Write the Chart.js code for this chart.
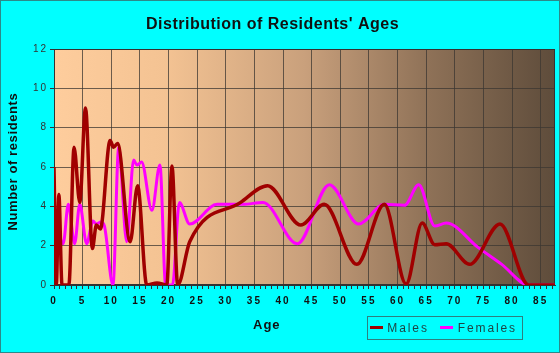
<!DOCTYPE html>
<html>
<head>
<meta charset="utf-8">
<script src="https://cdn.jsdelivr.net/npm/chart.js@4/dist/chart.umd.min.js"></script>
<style>
  html, body { margin: 0; padding: 0; background: #00ffff; }
  canvas { display: block; }
</style>
</head>
<body>
<canvas id="c" width="560" height="353"></canvas>
<script>
// ---- Data ----
const chartTitle = "Distribution of Residents' Ages";
const xTitle = "Age";
const yTitle = "Number of residents";
const seriesNames = ["Males", "Females"];

const maleAges = [0, 0.4, 0.85, 1.4, 2.6, 3.5, 4.5, 5.5, 6.7, 7.4, 8.1, 9.8, 10.4, 11.1, 13.3, 14.6, 16.2, 18, 19.7, 20.6, 21.6, 23.7, 32.6, 37.3, 43.1, 47.2, 52.9, 57.7, 61.5, 64.3, 66.5, 68.5, 72.6, 77.9, 82.9, 87.5];
const maleValues = [6.0, 0, 4.6, 0, 0, 7.0, 4.2, 9.0, 1.85, 3.05, 2.85, 7.35, 7.0, 7.2, 2.2, 5.05, 0, 0.1, 0, 6.05, 0, 2.2, 4.2, 5.05, 3.05, 4.1, 1.05, 4.1, 0.05, 3.15, 2.05, 2.1, 1.05, 3.1, 0, 0];

const femaleAges = [0, 1.6, 2.5, 3.6, 4.5, 5.7, 6.8, 7.4, 8.2, 8.8, 10.3, 11.3, 12.7, 13.9, 14.5, 15.3, 17.1, 18.5, 19.5, 20.7, 21.9, 23.7, 28.5, 33, 36.5, 42.5, 48.1, 53.2, 57.7, 61.2, 63.7, 66.5, 68.5, 74.1, 78.2, 82.9, 87.5];
const femaleValues = [4.1, 2.1, 4.1, 2.1, 4.1, 2.1, 3.25, 3.1, 3.2, 3.0, 0, 7.0, 2.2, 6.35, 6.1, 6.25, 3.8, 6.1, 0, 0, 4.2, 3.1, 4.1, 4.1, 4.2, 2.1, 5.1, 3.1, 4.1, 4.05, 5.1, 3.0, 3.15, 1.9, 1.05, 0, 0];

const xMin = 0, xMax = 87.5, xMajorStep = 5;
const yMin = 0, yMax = 12, yStep = 2;

// ---- Styles ----
const maleColor = '#a00000';
const femaleColor = '#ff00ff';
const gridColor = 'rgba(60,55,50,0.75)';
const axisColor = '#333333';

function toPoints(xs, ys) { return xs.map((x, i) => ({ x: x, y: ys[i] })); }

const decor = {
  id: 'decor',
  beforeDraw(chart) {
    const { ctx, chartArea: a, width, height } = chart;
    ctx.save();
    ctx.fillStyle = '#00ffff';
    ctx.fillRect(0, 0, width, height);
    const g = ctx.createLinearGradient(a.left, 0, a.right, 0);
    g.addColorStop(0, '#fecd9d');
    g.addColorStop(0.22, '#f4c393');
    g.addColorStop(0.5, '#c9a07c');
    g.addColorStop(0.75, '#8e7157');
    g.addColorStop(1, '#5e4c3b');
    ctx.fillStyle = g;
    ctx.fillRect(a.left, a.top, a.right - a.left, a.bottom - a.top);
    ctx.restore();
    ctx.letterSpacing = '2px';
  },
  beforeDatasetsDraw(chart) {
    const { ctx, chartArea: a } = chart;
    ctx.save();
    ctx.strokeStyle = axisColor;
    ctx.lineWidth = 1;
    ctx.strokeRect(Math.round(a.left) + 0.5, Math.round(a.top) + 0.5, Math.round(a.right - a.left) - 1, Math.round(a.bottom - a.top) - 1);
    ctx.restore();
  },
  afterDraw(chart) {
    const { ctx, width, height } = chart;
    ctx.save();
    // outer border
    ctx.strokeStyle = '#2b8a8a';
    ctx.lineWidth = 1;
    ctx.strokeRect(0.5, 0.5, width - 1, height - 1);
    // title
    ctx.fillStyle = '#111111';
    ctx.textBaseline = 'alphabetic';
    ctx.textAlign = 'left';
    ctx.letterSpacing = '0.5px';
    ctx.font = 'bold 16px "Liberation Sans", Arial, sans-serif';
    ctx.fillText(chartTitle, 146, 28.5);
    // x title
    ctx.letterSpacing = '1px';
    ctx.font = 'bold 13px "Liberation Sans", Arial, sans-serif';
    ctx.fillText(xTitle, 253, 328.5);
    // y title
    ctx.save();
    ctx.letterSpacing = '0.6px';
    ctx.translate(16.8, 230.5);
    ctx.rotate(-Math.PI / 2);
    ctx.fillText(yTitle, 0, 0);
    ctx.restore();
    // legend
    ctx.strokeStyle = '#2e7f7f';
    ctx.strokeRect(367.5, 316.5, 155, 23);
    const ds = chart.data.datasets;
    const items = [{ lx: 370, tx: 387.3 }, { lx: 440, tx: 457.7 }];
    ctx.font = '12px "Liberation Sans", Arial, sans-serif';
    ctx.letterSpacing = '1.9px';
    items.forEach((it, i) => {
      ctx.strokeStyle = ds[i].borderColor;
      ctx.lineWidth = 3;
      ctx.beginPath();
      ctx.moveTo(it.lx, 327.5);
      ctx.lineTo(it.lx + 13, 327.5);
      ctx.stroke();
      ctx.fillStyle = '#1d4444';
      ctx.fillText(ds[i].label, it.tx, 331.5);
    });
    ctx.restore();
  }
};

new Chart(document.getElementById('c'), {
  type: 'line',
  data: {
    datasets: [
      {
        label: seriesNames[0],
        data: toPoints(maleAges, maleValues),
        borderColor: maleColor,
        backgroundColor: maleColor,
        borderWidth: 3.5,
        pointRadius: 0,
        cubicInterpolationMode: 'monotone',
        fill: false
      },
      {
        label: seriesNames[1],
        data: toPoints(femaleAges, femaleValues),
        borderColor: femaleColor,
        backgroundColor: femaleColor,
        borderWidth: 3,
        pointRadius: 0,
        cubicInterpolationMode: 'monotone',
        fill: false
      }
    ]
  },
  options: {
    responsive: false,
    animation: false,
    devicePixelRatio: 1,
    layout: { padding: { top: 49, right: 5, left: 0, bottom: 0 } },
    plugins: { legend: { display: false }, title: { display: false }, tooltip: { enabled: false } },
    scales: {
      x: {
        type: 'linear',
        min: xMin,
        max: xMax,
        afterFit(scale) { scale.height = 68; },
        border: { color: axisColor },
        grid: {
          color: (c) => (c.tick && c.tick.value % xMajorStep === 0) ? gridColor : 'rgba(0,0,0,0)',
          tickColor: axisColor,
          tickLength: 4,
          drawOnChartArea: true
        },
        ticks: {
          stepSize: 1,
          autoSkip: false,
          includeBounds: false,
          maxRotation: 0,
          padding: 6,
          color: '#111111',
          font: { family: '"Liberation Sans", Arial, sans-serif', size: 10, weight: 'bold' },
          callback: (v) => (v % xMajorStep === 0 ? String(v) : '')
        }
      },
      y: {
        min: yMin,
        max: yMax,
        afterFit(scale) { scale.width = 54; },
        border: { color: axisColor },
        grid: { color: gridColor, tickColor: axisColor, tickLength: 4 },
        ticks: {
          stepSize: yStep,
          padding: 2,
          color: '#333333',
          font: { family: '"Liberation Sans", Arial, sans-serif', size: 10 }
        }
      }
    }
  },
  plugins: [decor]
});
</script>
</body>
</html>
